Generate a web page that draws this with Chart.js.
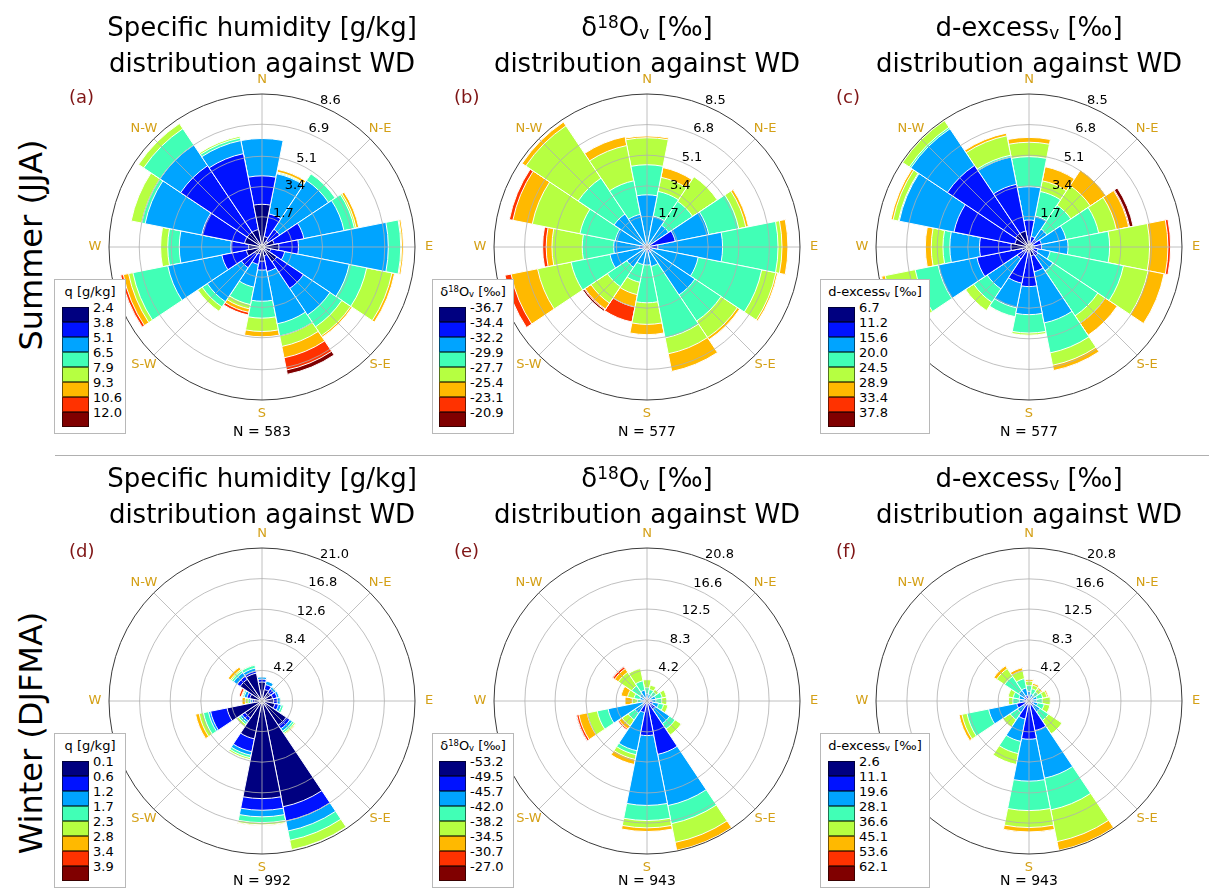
<!DOCTYPE html>
<html>
<head>
<meta charset="utf-8">
<script src="https://cdn.jsdelivr.net/npm/chart.js@4.4.0/dist/chart.umd.min.js"></script>
<style>
  body { margin: 0; width: 1209px; height: 889px; overflow: hidden; background: #fff;
         font-family: "DejaVu Sans", sans-serif; position: relative; color: #000; }
  canvas.rose { position: absolute; }
  .title { position: absolute; width: 420px; text-align: center; font-size: 26px; line-height: 36px; }
  .title sup, .legend sup { font-size: 0.65em; line-height: 0; vertical-align: 0.5em; }
  .title sub, .legend sub { font-size: 0.65em; line-height: 0; vertical-align: -0.15em; }
  .tag { position: absolute; font-size: 18px; color: #7f1515; }
  .count { position: absolute; width: 120px; text-align: center; font-size: 14px; }
  .row { position: absolute; font-size: 32px; white-space: nowrap; transform: translate(-50%, -50%) rotate(-90deg); }
  .legend { position: absolute; background: #fff; border: 1px solid #b8b8b8; font-size: 13px; z-index: 5; box-sizing: border-box; }
  .legend .lt { position: absolute; left: 0; right: 0; top: 4px; text-align: center; white-space: nowrap; }
  .legend .sw { position: absolute; width: 27px; height: 15px; box-sizing: border-box; border: 1px solid rgba(0,0,0,0.55); }
  .legend .lb { position: absolute; line-height: 16px; white-space: nowrap; }
  .sep { position: absolute; left: 55px; right: 0; top: 455px; height: 1px; background: #b0b0b0; }
</style>
</head>
<body>
<div class="sep"></div>
<script>
// wind direction sectors, clockwise from north
const directions = ['N', 'NNE', 'NE', 'ENE', 'E', 'ESE', 'SE', 'SSE', 'S', 'SSW', 'SW', 'WSW', 'W', 'WNW', 'NW', 'NNW'];
const compassLabels = ['N', 'N-E', 'E', 'S-E', 'S', 'S-W', 'W', 'N-W'];
// jet colormap, 8 bins
const binColors = ['#000080', '#0012ff', '#00a4ff', '#41ffb6', '#b6ff41', '#ffb900', '#ff3200', '#800000'];

// frequency [%] per direction (rows) and value bin (columns)
const qSummer = [
  [2.4, 1.6, 2.1, 0, 0, 0, 0, 0],
  [0.6, 1.3, 2.3, 0.05, 0.05, 0.15, 0, 0],
  [0.4, 0.8, 3.3, 0.45, 0, 0, 0, 0],
  [0.7, 1.7, 2.3, 0.6, 0.1, 0.15, 0, 0],
  [0.95, 1.1, 5.05, 0.7, 0.05, 0.1, 0, 0],
  [0.5, 0.8, 3.7, 1.0, 1.45, 0.15, 0, 0],
  [1.0, 1.8, 1.8, 0.8, 0.6, 0.1, 0, 0],
  [0.5, 0.9, 3.0, 0.7, 0.6, 0.65, 0.7, 0.25],
  [0.8, 0.5, 1.75, 0.95, 0.75, 0.3, 0, 0],
  [0.4, 0.6, 1.3, 1.0, 0.25, 0.2, 0.15, 0],
  [0.5, 0.9, 2.3, 0.35, 0.3, 0, 0, 0],
  [0.9, 1.4, 3.1, 2.0, 0.25, 0.3, 0.15, 0.03],
  [0.75, 1.0, 2.9, 0.65, 0.4, 0, 0, 0],
  [1.0, 2.45, 3.25, 0.2, 0.6, 0, 0, 0],
  [1.0, 4.5, 1.4, 1.1, 0.35, 0, 0, 0],
  [1.0, 4.35, 0.75, 0.15, 0.1, 0, 0, 0]
];
const d18Summer = [
  [0.05, 0.1, 2.75, 1.67, 1.5, 0.1, 0, 0],
  [0.05, 0.05, 1.65, 1.4, 0.8, 0.55, 0, 0],
  [0.05, 0.1, 1.3, 1.6, 1.65, 0, 0, 0],
  [0.1, 1.5, 1.9, 1.7, 0.4, 0.15, 0, 0],
  [0.2, 0.4, 3.6, 3.08, 0.22, 0.33, 0, 0],
  [0.1, 0.2, 2.6, 3.6, 0.8, 0.1, 0, 0],
  [0.1, 0.2, 2.9, 1.75, 1.1, 0.15, 0, 0],
  [0.1, 0.2, 0.8, 4.05, 0.9, 1.0, 0, 0],
  [0.1, 0.1, 0.8, 2.1, 1.2, 0.57, 0, 0],
  [0.05, 0.05, 0.9, 1.0, 0.7, 0.7, 0.85, 0],
  [0.05, 0.1, 1.2, 1.3, 1.1, 0.4, 0.05, 0.1],
  [0.05, 0.1, 1.95, 2.2, 1.9, 1.5, 0.35, 0],
  [0.15, 0.25, 1.45, 1.75, 1.68, 0.32, 0.2, 0],
  [0.05, 0.1, 1.65, 2.0, 2.7, 1.1, 0.2, 0],
  [0.05, 0.1, 2.05, 2.4, 3.5, 0.25, 0, 0],
  [0.05, 0.1, 1.7, 1.9, 2.0, 0.5, 0, 0]
];
const dexSummer = [
  [0.3, 1.2, 1.85, 1.67, 0.8, 0.27, 0, 0],
  [0.2, 0.4, 1.15, 1.4, 0.6, 0.8, 0, 0],
  [0.2, 0.3, 0.7, 1.6, 1.3, 1.05, 0, 0],
  [0.2, 0.5, 1.4, 1.85, 1.0, 0.7, 0.05, 0.2],
  [0.3, 0.4, 1.47, 2.31, 2.22, 1.02, 0.15, 0],
  [0.2, 0.3, 0.7, 4.15, 1.4, 0.9, 0, 0],
  [0.2, 0.4, 1.0, 3.0, 0.5, 0.8, 0, 0],
  [0.5, 0.9, 2.9, 1.7, 0.7, 0.3, 0, 0],
  [0.2, 2.0, 1.56, 1.02, 0.12, 0, 0, 0],
  [0.3, 1.75, 1.4, 0.5, 0.02, 0, 0, 0],
  [0.2, 0.6, 2.0, 0.9, 0.55, 0, 0, 0],
  [0.4, 2.55, 2.2, 1.3, 1.7, 0.2, 0, 0],
  [1.0, 1.75, 1.65, 0.38, 0.65, 0.33, 0, 0],
  [0.8, 3.45, 3.1, 0.05, 0.3, 0.12, 0, 0],
  [0.9, 4.55, 2.45, 0.1, 0.45, 0, 0, 0],
  [0.9, 2.65, 1.55, 0.1, 1.1, 0.15, 0, 0]
];
const qWinter = [
  [2.6, 0.4, 0.3, 0, 0, 0, 0, 0],
  [1.6, 0.7, 0.5, 0, 0, 0, 0, 0],
  [1.4, 0.6, 0.3, 0.1, 0, 0, 0, 0],
  [1.5, 0.6, 0.3, 0, 0, 0, 0, 0],
  [1.6, 0.5, 0.4, 0.1, 0, 0, 0, 0],
  [1.8, 0.5, 0.4, 0.3, 0, 0, 0, 0],
  [4.0, 0.6, 0.4, 0.3, 0.2, 0.1, 0, 0],
  [14.8, 2.0, 1.4, 1.3, 1.3, 0, 0, 0],
  [13.4, 1.6, 0.9, 0.8, 0.3, 0.1, 0, 0],
  [5.3, 1.8, 0.5, 0.35, 0.25, 0, 0, 0],
  [2.8, 0.5, 0.3, 0.3, 0.3, 0, 0, 0],
  [4.9, 2.3, 0.3, 0.7, 0.6, 0.5, 0, 0],
  [1.0, 0.3, 0.3, 0.3, 0.4, 0.45, 0, 0],
  [1.7, 0.4, 0.4, 0.2, 0.1, 0.1, 0.3, 0],
  [3.6, 0.5, 0.6, 0.3, 0.2, 0.4, 0, 0],
  [3.9, 0.3, 0.4, 0.4, 0.1, 0, 0, 0]
];
const d18Winter = [
  [0.1, 0.3, 0.6, 0.8, 1.1, 0, 0, 0],
  [0.1, 0.3, 0.5, 0.7, 0.6, 0, 0, 0],
  [0.1, 0.3, 0.5, 0.6, 0.4, 0, 0, 0],
  [0.1, 0.4, 0.7, 0.9, 0.6, 0, 0, 0],
  [0.1, 0.5, 0.6, 0.8, 0.7, 0, 0, 0],
  [0.2, 0.6, 0.8, 0.7, 0.6, 0, 0, 0],
  [0.2, 1.2, 2.3, 0.9, 1.0, 0, 0, 0],
  [0.3, 7.1, 7.1, 2.5, 2.6, 1.1, 0, 0],
  [0.3, 4.4, 9.5, 2.05, 1.0, 0.5, 0, 0],
  [0.1, 1.5, 5.3, 0.55, 0.65, 0.7, 0, 0],
  [0.1, 0.5, 1.4, 1.1, 1.0, 0.5, 0.2, 0],
  [0.1, 0.4, 4.9, 1.5, 1.4, 1.15, 0.3, 0.1],
  [0.1, 0.2, 0.4, 0.6, 0.7, 1.0, 0, 0],
  [0.1, 0.3, 0.6, 0.8, 0.9, 0.9, 0, 0],
  [0.1, 0.3, 0.8, 1.3, 2.2, 0.6, 0.3, 0.1],
  [0.1, 0.4, 1.0, 1.3, 1.7, 0, 0, 0]
];
const dexWinter = [
  [0.1, 0.4, 0.8, 0.8, 0.6, 0.25, 0, 0],
  [0.1, 0.3, 0.6, 0.7, 0.5, 0.25, 0, 0],
  [0.1, 0.3, 0.5, 0.6, 0.5, 0.2, 0, 0],
  [0.1, 0.4, 0.6, 0.8, 0.6, 0.2, 0, 0],
  [0.1, 0.3, 0.6, 0.8, 1.1, 0, 0, 0],
  [0.2, 0.4, 0.6, 0.9, 0.8, 0, 0, 0],
  [0.2, 0.6, 1.0, 1.4, 2.2, 0, 0, 0],
  [0.5, 3.6, 6.6, 4.4, 4.4, 1.2, 0, 0],
  [0.5, 4.7, 5.7, 4.0, 2.3, 0.6, 0, 0],
  [0.5, 2.0, 3.1, 1.7, 1.5, 0, 0, 0],
  [0.3, 0.6, 1.0, 1.2, 1.2, 0, 0, 0],
  [0.5, 1.2, 3.9, 3.0, 0.7, 0.4, 0, 0],
  [0.2, 0.4, 0.7, 0.9, 0.6, 0, 0, 0],
  [0.2, 0.5, 0.7, 0.8, 0.7, 0, 0, 0],
  [0.2, 0.6, 0.9, 2.3, 1.3, 0.45, 0, 0],
  [0.2, 0.6, 1.0, 1.3, 1.1, 0.4, 0, 0]
];

// bin lower bounds shown in the legends
const binsQSummer = ['2.4', '3.8', '5.1', '6.5', '7.9', '9.3', '10.6', '12.0'];
const binsD18Summer = ['-36.7', '-34.4', '-32.2', '-29.9', '-27.7', '-25.4', '-23.1', '-20.9'];
const binsDexSummer = ['6.7', '11.2', '15.6', '20.0', '24.5', '28.9', '33.4', '37.8'];
const binsQWinter = ['0.1', '0.6', '1.2', '1.7', '2.3', '2.8', '3.4', '3.9'];
const binsD18Winter = ['-53.2', '-49.5', '-45.7', '-42.0', '-38.2', '-34.5', '-30.7', '-27.0'];
const binsDexWinter = ['2.6', '11.1', '19.6', '28.1', '36.6', '45.1', '53.6', '62.1'];

// radial tick labels (last one is the outer ring)
const ticksA = ['1.7', '3.4', '5.1', '6.9', '8.6'];
const ticksBC = ['1.7', '3.4', '5.1', '6.8', '8.5'];
const ticksD = ['4.2', '8.4', '12.6', '16.8', '21.0'];
const ticksEF = ['4.2', '8.3', '12.5', '16.6', '20.8'];

const counts = [583, 577, 577, 992, 943, 943];

const qTitle = 'Specific humidity [g/kg]<br>distribution against WD';
const d18Title = 'δ<sup>18</sup>O<sub>v</sub> [‰]<br>distribution against WD';
const dexTitle = 'd-excess<sub>v</sub> [‰]<br>distribution against WD';
const qLegend = 'q [g/kg]';
const d18Legend = 'δ<sup>18</sup>O<sub>v</sub> [‰]';
const dexLegend = 'd-excess<sub>v</sub> [‰]';

const panels = [
  { tag: '(a)', rows: qSummer, ticks: ticksA, bins: binsQSummer, title: qTitle, leg: qLegend, cx: 262, cy: 247, lx: 54, lw: 72, sx: 7 },
  { tag: '(b)', rows: d18Summer, ticks: ticksBC, bins: binsD18Summer, title: d18Title, leg: d18Legend, cx: 647, cy: 247, lx: 432, lw: 82, sx: 6 },
  { tag: '(c)', rows: dexSummer, ticks: ticksBC, bins: binsDexSummer, title: dexTitle, leg: dexLegend, cx: 1029, cy: 247, lx: 820, lw: 110, sx: 7 },
  { tag: '(d)', rows: qWinter, ticks: ticksD, bins: binsQWinter, title: qTitle, leg: qLegend, cx: 262, cy: 701, lx: 54, lw: 72, sx: 7 },
  { tag: '(e)', rows: d18Winter, ticks: ticksEF, bins: binsD18Winter, title: d18Title, leg: d18Legend, cx: 647, cy: 701, lx: 432, lw: 82, sx: 6 },
  { tag: '(f)', rows: dexWinter, ticks: ticksEF, bins: binsDexWinter, title: dexTitle, leg: dexLegend, cx: 1029, cy: 701, lx: 820, lw: 110, sx: 7 }
];

const SIZE = 400, RADIUS = 153;

// grid rings, spokes, radial labels and compass labels drawn over the bars (matplotlib style)
const roseOverlay = {
  id: 'roseOverlay',
  afterDatasetsDraw(chart, args, opts) {
    const s = chart.scales.r;
    const ctx = chart.ctx;
    const cx = s.xCenter, cy = s.yCenter;
    const R = s.getDistanceFromCenterForValue(s.max);
    ctx.save();
    ctx.strokeStyle = '#b0b0b0';
    ctx.lineWidth = 0.8;
    opts.ticks.slice(0, -1).forEach(t => {
      ctx.beginPath();
      ctx.arc(cx, cy, s.getDistanceFromCenterForValue(parseFloat(t)), 0, Math.PI * 2);
      ctx.stroke();
    });
    for (let k = 0; k < 8; k++) {
      const a = k * Math.PI / 4;
      ctx.beginPath();
      ctx.moveTo(cx, cy);
      ctx.lineTo(cx + R * Math.sin(a), cy - R * Math.cos(a));
      ctx.stroke();
    }
    ctx.strokeStyle = '#3a3a3a';
    ctx.lineWidth = 1;
    ctx.beginPath();
    ctx.arc(cx, cy, R, 0, Math.PI * 2);
    ctx.stroke();

    ctx.font = '13px "DejaVu Sans"';
    ctx.fillStyle = '#000';
    ctx.textAlign = 'left';
    ctx.textBaseline = 'middle';
    const la = 22.5 * Math.PI / 180;
    opts.ticks.forEach(t => {
      const r = s.getDistanceFromCenterForValue(parseFloat(t));
      ctx.fillText(t, cx + r * Math.sin(la) - 0.5, cy - r * Math.cos(la) - 5);
    });

    ctx.fillStyle = '#d4a017';
    ctx.textAlign = 'center';
    compassLabels.forEach((lab, k) => {
      const a = k * Math.PI / 4;
      ctx.fillText(lab, cx + (R + 14) * Math.sin(a), cy - (R + 14) * Math.cos(a));
    });
    ctx.restore();
  }
};

function addDiv(cls, html, style) {
  const d = document.createElement('div');
  d.className = cls;
  d.innerHTML = html;
  Object.assign(d.style, style);
  document.body.appendChild(d);
  return d;
}

panels.forEach((p, i) => {
  const canvas = document.createElement('canvas');
  canvas.className = 'rose';
  canvas.width = SIZE;
  canvas.height = SIZE;
  canvas.style.left = (p.cx - SIZE / 2) + 'px';
  canvas.style.top = (p.cy - SIZE / 2) + 'px';
  document.body.appendChild(canvas);

  // cumulative stacks: bin b reaches the sum of bins 0..b
  const stacks = binColors.map((c, b) => p.rows.map(r => r.slice(0, b + 1).reduce((acc, v) => acc + v, 0)));
  const rmax = parseFloat(p.ticks[p.ticks.length - 1]);

  new Chart(canvas, {
    type: 'polarArea',
    data: {
      labels: directions,
      datasets: stacks.map((d, b) => ({
        data: d,
        backgroundColor: binColors[b],
        borderColor: '#ffffff',
        borderWidth: 1
      }))
    },
    options: {
      responsive: false,
      animation: false,
      events: [],
      layout: { padding: (SIZE - 2 * RADIUS) / 2 },
      plugins: { legend: { display: false }, tooltip: { enabled: false }, roseOverlay: { ticks: p.ticks } },
      scales: {
        r: {
          min: 0,
          max: rmax,
          startAngle: -11.25,
          ticks: { display: false },
          grid: { display: false },
          angleLines: { display: false },
          pointLabels: { display: false }
        }
      }
    },
    plugins: [roseOverlay]
  });

  const summer = p.cy < 400;
  const top = summer ? 0 : 451;
  addDiv('title', p.title, { left: (p.cx - 210) + 'px', top: (top + 9) + 'px' });
  addDiv('tag', p.tag, { left: (p.cx - 193) + 'px', top: (p.cy - 161) + 'px' });
  addDiv('count', 'N = ' + counts[i], { left: (p.cx - 60) + 'px', top: (p.cy + (summer ? 176 : 171)) + 'px' });

  const legTop = p.cy - 247 + 279;
  const leg = addDiv('legend', '', { left: p.lx + 'px', top: legTop + 'px', width: p.lw + 'px', height: '155px' });
  leg.innerHTML = '<div class="lt">' + p.leg + '</div>';
  p.bins.forEach((lab, b) => {
    const y = 27 + b * 15;
    leg.innerHTML += '<div class="sw" style="left:' + p.sx + 'px;top:' + y + 'px;background:' + binColors[b] + '"></div>' +
      '<div class="lb" style="left:' + (p.sx + 31) + 'px;top:' + (y - 7) + 'px">' + lab + '</div>';
  });
});

addDiv('row', 'Summer (JJA)', { left: '31px', top: '245px' });
addDiv('row', 'Winter (DJFMA)', { left: '31px', top: '733px' });
</script>
</body>
</html>
